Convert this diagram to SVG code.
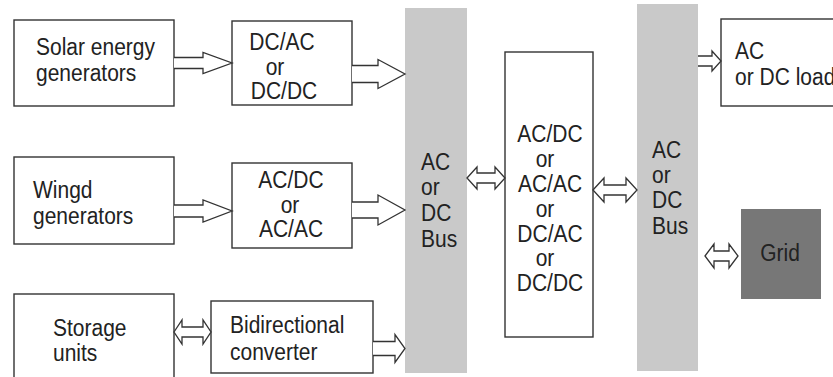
<svg xmlns="http://www.w3.org/2000/svg" width="833" height="377" viewBox="0 0 833 377">
<style>
.box{fill:#fff;stroke:#333;stroke-width:1.4}
.bus{fill:#c9c9c9}
.grid{fill:#777}
.arr{fill:#fff;stroke:#333;stroke-width:1.3;stroke-linejoin:miter}
text{font-family:"Liberation Sans",Arial,sans-serif;font-size:21px;fill:#222}
.m{text-anchor:middle}
</style>
<rect width="833" height="377" fill="#fff"/>
<g id="bus1"><rect class="bus" x="405" y="8" width="62" height="365"/>
<text transform="translate(421 170) scale(1 1.12)">AC</text>
<text transform="translate(421 195) scale(1 1.12)">or</text>
<text transform="translate(421 221) scale(1 1.12)">DC</text>
<text transform="translate(421 247) scale(1 1.12)">Bus</text></g>
<g id="bus2"><rect class="bus" x="637" y="4" width="61" height="367"/>
<text transform="translate(652 158) scale(1 1.12)">AC</text>
<text transform="translate(652 183) scale(1 1.12)">or</text>
<text transform="translate(652 208) scale(1 1.12)">DC</text>
<text transform="translate(652 234) scale(1 1.12)">Bus</text></g>
<g id="solar"><rect class="box" x="14" y="20" width="160" height="86"/>
<text transform="translate(36 55) scale(1 1.12)">Solar energy</text>
<text transform="translate(36 81) scale(1 1.12)">generators</text></g>
<g id="conv1"><rect class="box" x="232" y="21" width="120" height="84"/>
<text class="m" transform="translate(282 50) scale(1 1.1)">DC/AC</text>
<text class="m" transform="translate(275 75) scale(1 1.1)">or</text>
<text class="m" transform="translate(284 99) scale(1 1.1)">DC/DC</text></g>
<g id="wind"><rect class="box" x="14" y="157" width="160" height="87"/>
<text transform="translate(33 198) scale(1 1.12)">Wingd</text>
<text transform="translate(33 224) scale(1 1.12)">generators</text></g>
<g id="conv2"><rect class="box" x="232" y="163" width="120" height="85"/>
<text class="m" transform="translate(291 188) scale(1 1.12)">AC/DC</text>
<text class="m" transform="translate(290 213) scale(1 1.12)">or</text>
<text class="m" transform="translate(291 237) scale(1 1.12)">AC/AC</text></g>
<g id="storage"><rect class="box" x="14" y="294" width="160" height="100"/>
<text transform="translate(53 336) scale(1 1.12)">Storage</text>
<text transform="translate(53 361) scale(1 1.12)">units</text></g>
<g id="bidir"><rect class="box" x="211" y="301" width="162" height="72"/>
<text transform="translate(230 333) scale(1 1.12)">Bidirectional</text>
<text transform="translate(230 360) scale(1 1.12)">converter</text></g>
<g id="middle"><rect class="box" x="505" y="52" width="88" height="285"/>
<text class="m" transform="translate(550 142) scale(1 1.12)">AC/DC</text>
<text class="m" transform="translate(545 167) scale(1 1.12)">or</text>
<text class="m" transform="translate(550 192) scale(1 1.12)">AC/AC</text>
<text class="m" transform="translate(545 217) scale(1 1.12)">or</text>
<text class="m" transform="translate(550 242) scale(1 1.12)">DC/AC</text>
<text class="m" transform="translate(545 266) scale(1 1.12)">or</text>
<text class="m" transform="translate(550 291) scale(1 1.12)">DC/DC</text></g>
<g id="load"><rect class="box" x="721" y="19" width="130" height="87"/>
<text transform="translate(735 59) scale(1 1.12)">AC</text>
<text transform="translate(735 85) scale(1 1.12)">or DC load</text></g>
<g id="grid"><rect class="grid" x="741" y="209" width="80" height="90"/>
<text class="m" transform="translate(780 261) scale(1 1.12)">Grid</text></g>
<g id="connectors">
<path class="arr" d="M174 57.5H203V52.5L232 63L203 73.5V68.5H174"/>
<path class="arr" d="M352 65.5H378V59.5L405 74L378 88.5V82.5H352"/>
<path class="arr" d="M174 205H203V200L232 211L203 222V217H174"/>
<path class="arr" d="M352 202H378V195L405 210L378 225V218H352"/>
<path class="arr" d="M174 332L182 320V327H203V320L211 332L203 344V337H182V344Z"/>
<path class="arr" d="M373 341.5H395V334.5L405 348.5L395 362.5V355.5H373"/>
<path class="arr" d="M467 178L477 167V173H495V167L505 178L495 189V183H477V189Z"/>
<path class="arr" d="M593 190L604 178V185H626V178L637 190L626 202V195H604V202Z"/>
<path class="arr" d="M698 56H712V51L721 61L712 71V66H698"/>
<path class="arr" d="M705 256L714 244V251H729V244L738 256L729 268V261H714V268Z"/>
</g>
</svg>
